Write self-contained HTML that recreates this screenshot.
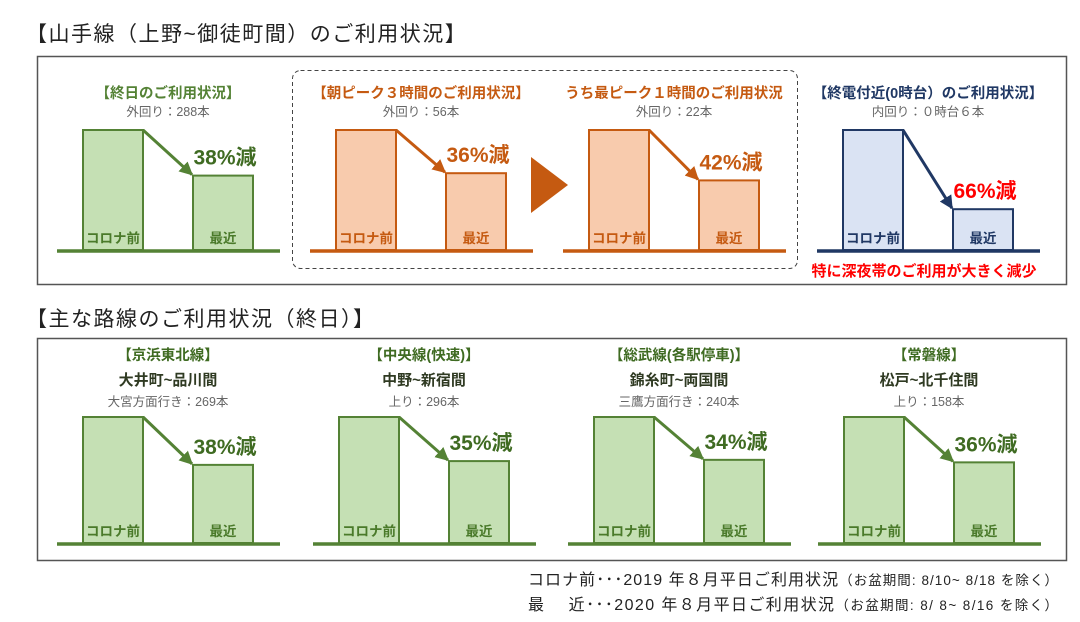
<!DOCTYPE html>
<html><head><meta charset="utf-8">
<style>
html,body{margin:0;padding:0;background:#fff;}
body{width:1080px;height:617px;overflow:hidden;position:relative;font-family:"Liberation Sans","Noto Sans CJK JP",sans-serif;}
svg text{font-family:"Liberation Sans","Noto Sans CJK JP",sans-serif;}
</style></head>
<body>
<svg id="chart" width="1080" height="617" viewBox="0 0 1080 617" xmlns="http://www.w3.org/2000/svg">
<defs>
<marker id="ahG" viewBox="0 0 10 10" refX="9" refY="5" markerWidth="4.5" markerHeight="4.5" orient="auto"><path d="M0,0L10,5L0,10z" fill="#548235"/></marker>
<marker id="ahO" viewBox="0 0 10 10" refX="9" refY="5" markerWidth="4.5" markerHeight="4.5" orient="auto"><path d="M0,0L10,5L0,10z" fill="#c55a11"/></marker>
<marker id="ahB" viewBox="0 0 10 10" refX="9" refY="5" markerWidth="4.5" markerHeight="4.5" orient="auto"><path d="M0,0L10,5L0,10z" fill="#203864"/></marker>
</defs>
<text x="26" y="41" font-size="21" letter-spacing="1.5" fill="#222">【山手線（上野~御徒町間）のご利用状況】</text>
<rect x="37.5" y="56.5" width="1029" height="228" fill="none" stroke="#555" stroke-width="1.5"/>
<rect x="292.5" y="70.5" width="505" height="198" rx="8" fill="none" stroke="#444" stroke-width="1" stroke-dasharray="4,3"/>
<polygon points="531,157 568,185 531,213" fill="#c55a11"/>
<text x="26" y="326" font-size="21" letter-spacing="1.5" fill="#222">【主な路線のご利用状況（終日）】</text>
<rect x="37.5" y="338.5" width="1029" height="222" fill="none" stroke="#555" stroke-width="1.5"/>
<text x="528" y="585" font-size="16" fill="#222" textLength="530" lengthAdjust="spacing">コロナ前･･･2019 年８月平日ご利用状況<tspan font-size="13.5">（お盆期間: 8/10~ 8/18 を除く）</tspan></text>
<text x="528" y="610" font-size="16" fill="#222" textLength="530" lengthAdjust="spacing">最　 近･･･2020 年８月平日ご利用状況<tspan font-size="13.5">（お盆期間: 8/ 8~ 8/16 を除く）</tspan></text>
<text x="924" y="276" font-size="15" font-weight="bold" fill="#ff0000" text-anchor="middle">特に深夜帯のご利用が大きく減少</text>
</svg>
<script>
// data
const panelTitles = ["【終日のご利用状況】","【朝ピーク３時間のご利用状況】","うち最ピーク１時間のご利用状況","【終電付近(0時台）のご利用状況】","【京浜東北線】","【中央線(快速)】","【総武線(各駅停車)】","【常磐線】"];
const panelSubtitles = ["","","","","大井町~品川間","中野~新宿間","錦糸町~両国間","松戸~北千住間"];
const trainCounts = ["外回り：288本","外回り：56本","外回り：22本","内回り：０時台６本","大宮方面行き：269本","上り：296本","三鷹方面行き：240本","上り：158本"];
const reductionPct = [38,36,42,66,38,35,34,36];
const beforeValues = [100,100,100,100,100,100,100,100];
const categories = ["コロナ前","最近"];
const themes = ["g","o","o","b","g","g","g","g"];

const C = {
  g:{fill:"#c5e0b4",stroke:"#548235",text:"#4a7a2a",pct:"#3f6b22",title:"#548235",m:"ahG"},
  o:{fill:"#f8cbad",stroke:"#c55a11",text:"#c55a11",pct:"#c55a11",title:"#c55a11",m:"ahO"},
  b:{fill:"#dae3f3",stroke:"#203864",text:"#203864",pct:"#ff0000",title:"#203864",m:"ahB"}
};
// layout (pixels) kept separate from data
const panelX = [57,310,563,817,57,313,568,818];
const rowBase = [250,250,250,250,543,543,543,543];
const rowH = [120,120,120,120,126,126,126,126];
const svg = document.getElementById('chart');
const NS = "http://www.w3.org/2000/svg";
function mk(tag, attrs){const e=document.createElementNS(NS,tag);for(const k in attrs)e.setAttribute(k,attrs[k]);svg.appendChild(e);return e;}
function yScale(i,v){return rowBase[i]-v/100*rowH[i];}

for(let i=0;i<8;i++){
  const t=C[themes[i]], x0=panelX[i], base=rowBase[i];
  const bx=[x0+26,x0+136], bw=60;
  const vals=[beforeValues[i], beforeValues[i]*(100-reductionPct[i])/100];
  const cx=x0+111;
  const top = i<4;
  let ty = top?98:360;
  const tt=mk('text',{x:cx,y:ty,'font-size':14.5,'font-weight':'bold',fill:top?t.title:'#3f6b22','text-anchor':'middle'});
  
  
  tt.textContent=panelTitles[i];
  if(panelSubtitles[i]){
    const st=mk('text',{x:cx,y:385,'font-size':15,'font-weight':'bold',fill:'#2f3a22','text-anchor':'middle'});
    
    
    st.textContent=panelSubtitles[i];
  }
  const ct=mk('text',{x:cx,y:top?116:406,'font-size':12.5,fill:'#666','text-anchor':'middle'});
  
  
  ct.textContent=trainCounts[i];
  for(let j=0;j<2;j++){
    const y=yScale(i,vals[j]);
    const r=mk('rect',{x:bx[j],y:y,width:bw,height:base-y,fill:t.fill,stroke:t.stroke,'stroke-width':2});
    
    
    const l=mk('text',{x:bx[j]+bw/2,y:base-7,'font-size':13.5,'font-weight':'bold',fill:t.text,'text-anchor':'middle'});
    
    
    l.textContent=categories[j];
  }
  const bl=mk('line',{x1:x0,y1:base+1,x2:x0+223,y2:base+1,stroke:t.stroke,'stroke-width':3.5});
  
  
  const y0=yScale(i,vals[0]), y1=yScale(i,vals[1]);
  const a=mk('line',{x1:bx[0]+bw,y1:y0,x2:bx[1]-1,y2:y1-1,stroke:t.stroke,'stroke-width':3,'marker-end':'url(#'+t.m+')'});
  
  
  const p=mk('text',{x:bx[1]+bw/2+2,y:y1-11,'font-size':21,'font-weight':'bold',fill:t.pct,'text-anchor':'middle'});
  
  
  p.textContent=reductionPct[i]+'%減';
}
</script>
</body></html>
